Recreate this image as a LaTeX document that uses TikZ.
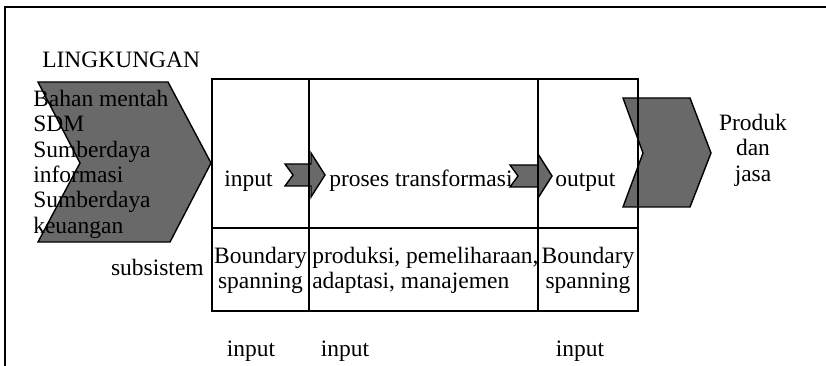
\documentclass[tikz,border=0pt]{standalone}
\usepackage{fontspec}
\setmainfont{Liberation Serif}
\usetikzlibrary{arrows}
\definecolor{chevgray}{RGB}{105,105,105}

\begin{document}
\begin{tikzpicture}[x=0.025cm,y=-0.025cm,
  every node/.style={font=\fontsize{16.7}{18}\selectfont,inner sep=0pt},
  chev/.style={draw=black,line width=1pt,fill=chevgray}]

\useasboundingbox (0,0) rectangle (826,366);

\draw[line width=1.6pt] (5,366)--(5,7)--(826,7);

\coordinate (b0) at (212,79);
\coordinate (b1) at (638,311);

\draw[chev] (38,82)--(168,82)--(211,163)--(170,242)--(38,242)--(80,163)--cycle;
\draw[chev] (623,98)--(690,98)--(711,153)--(690,207)--(623,207)--(643,153)--cycle;
\draw[chev] (285,164)--(311,164)--(311,153)--(325,175)--(311,197)--(311,186)--(285,186)--(293,175)--cycle;
\draw[chev] (510,165)--(538,165)--(538,154)--(552,176)--(538,198)--(538,187)--(510,187)--(518,176)--cycle;

\draw[line width=1.1pt] (b0) rectangle (b1);
\draw[line width=1.1pt] (212,228)--(638,228);
\foreach \x in {309,538}
{
\draw[line width=1.1pt] (\x,79)--(\x,311);
}

\node[anchor=base west] (lingkungan) at (42,68) {LINGKUNGAN};
\node[anchor=north west,align=left] (sumber) at (33,90)
  {Bahan mentah\\SDM\\Sumberdaya\\informasi\\Sumberdaya\\keuangan};
\node[anchor=north,align=center] (produk) at (753,114) {Produk\\dan\\jasa};

\node[anchor=base west] (in) at (224,187) {input};
\node[anchor=base west] (proses) at (329,187) {proses transformasi};
\node[anchor=base west] (out) at (555,187) {output};

\node[anchor=base east] (subsistem) at (204,275) {subsistem};
\node[anchor=north,align=center] (bsin) at (260.5,247) {Boundary\\spanning};
\node[anchor=north west,align=left] (inti) at (312,247)
  {produksi, pemeliharaan,\\adaptasi, manajemen};
\node[anchor=north,align=center] (bsout) at (588,247) {Boundary\\spanning};

\node[anchor=base] (in1) at (251,356) {input};
\node[anchor=base] (in2) at (345,356) {input};
\node[anchor=base] (in3) at (580,356) {input};
\end{tikzpicture}
\end{document}
